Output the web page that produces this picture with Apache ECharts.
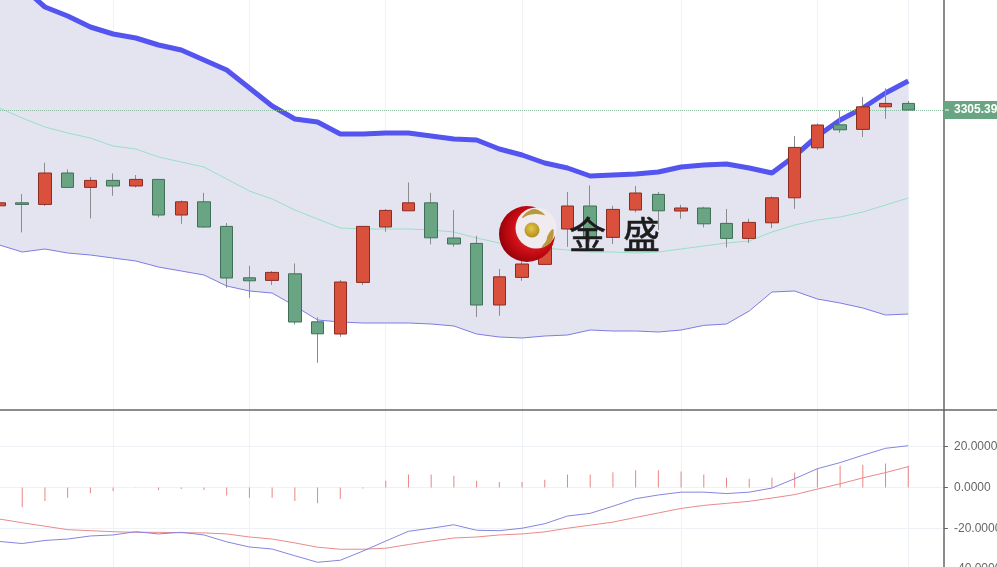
<!DOCTYPE html>
<html><head><meta charset="utf-8">
<style>html,body{margin:0;padding:0;background:#fff;overflow:hidden}#c{width:997px;height:567px}</style>
<script src="https://cdn.jsdelivr.net/npm/echarts@6/dist/echarts.min.js"></script>
</head><body><div id="c"></div>
<script>
const opens=[3257.5,3259.0,3258.2,3273.9,3266.7,3270.2,3267.4,3270.7,3252.9,3259.5,3247.2,3221.5,3220.2,3223.5,3199.5,3193.4,3219.2,3246.9,3255.0,3259.0,3241.4,3238.7,3207.9,3221.7,3228.2,3245.9,3257.4,3241.7,3255.4,3263.2,3254.9,3256.4,3248.7,3241.2,3249.0,3261.5,3286.5,3298.0,3295.7,3307.0,3308.7];
const closes=[3259.0,3258.2,3273.9,3266.7,3270.2,3267.4,3270.7,3252.9,3259.5,3246.9,3221.4,3220.0,3224.2,3199.4,3193.5,3219.4,3247.2,3255.2,3259.0,3241.5,3238.4,3207.9,3222.0,3228.4,3244.4,3257.4,3241.4,3255.7,3263.9,3255.0,3256.4,3248.5,3241.2,3249.2,3261.5,3286.7,3297.9,3295.5,3307.0,3308.7,3305.39];
const lows=[3257.4,3244.2,3257.4,3266.7,3251.2,3262.5,3266.7,3251.7,3248.5,3246.5,3216.5,3211.5,3217.9,3198.2,3179.0,3192.0,3217.9,3244.5,3255.0,3238.2,3237.0,3201.9,3202.5,3220.0,3228.2,3237.0,3239.5,3238.4,3254.2,3245.4,3251.0,3246.7,3236.7,3238.9,3246.4,3256.0,3285.4,3294.0,3291.9,3301.0,3305.39];
const highs=[3259.4,3263.4,3279.0,3275.7,3271.9,3273.7,3272.9,3270.7,3260.2,3264.0,3248.9,3227.5,3224.9,3228.7,3201.7,3220.4,3247.4,3255.9,3269.2,3264.0,3255.4,3242.5,3225.9,3229.9,3247.4,3264.4,3267.7,3257.5,3267.4,3264.4,3258.0,3257.0,3255.9,3251.0,3262.2,3292.4,3298.7,3305.2,3312.0,3316.2,3310.0];
const bollUpper=[3375.4,3366.9,3356.9,3352.4,3346.9,3343.4,3341.4,3337.9,3335.4,3330.4,3325.4,3316.4,3307.4,3300.9,3299.4,3293.4,3293.4,3293.9,3293.9,3292.4,3290.9,3290.4,3285.9,3282.9,3278.9,3276.4,3272.4,3272.9,3273.4,3274.4,3276.9,3277.9,3278.4,3276.4,3273.9,3282.4,3292.4,3300.4,3306.4,3313.9,3319.9];
const bollMid=[3306.4,3301.4,3296.9,3293.9,3291.4,3287.4,3285.9,3281.9,3279.4,3276.9,3270.9,3264.9,3260.9,3255.4,3250.9,3246.4,3245.9,3245.9,3245.9,3245.4,3244.4,3241.4,3238.9,3237.4,3236.4,3235.4,3234.4,3234.4,3233.9,3234.4,3235.9,3237.4,3238.9,3239.9,3244.4,3247.9,3250.4,3251.9,3254.4,3257.9,3261.4];
const bollLower=[3237.9,3234.4,3235.9,3233.9,3232.9,3231.4,3229.9,3226.9,3224.9,3222.9,3217.4,3214.9,3213.9,3207.4,3200.4,3199.4,3198.9,3198.9,3198.9,3198.4,3197.4,3193.4,3191.9,3191.4,3192.4,3192.9,3195.4,3194.9,3194.9,3194.4,3195.4,3197.7,3198.4,3204.9,3214.4,3214.9,3210.9,3208.9,3206.4,3202.9,3203.4];
const macdBars=[-11.2,-9.7,-6.7,-5,-2.8,-1.7,-0.2,-1.3,-0.7,-1.3,-4,-5,-5,-6.7,-7.7,-5.7,-0.5,3.3,6.3,6.3,5.8,3.3,2.7,2.7,3.8,6.3,6.3,7.5,8.5,8.5,7.8,6.3,4.8,4.3,4.8,7.3,9.3,10.7,11.2,11.7,10.7];
const dif=[-26.5,-27.5,-26,-25.3,-23.8,-23.3,-21.7,-22.8,-22,-23.3,-26.7,-29.2,-30.2,-33.5,-36.7,-35.7,-31.2,-26.3,-21.5,-20,-18.3,-21,-21.2,-20,-17.8,-14,-12.7,-9.2,-5.5,-3.7,-2.3,-2.3,-3,-2.3,-0.3,4.3,9.2,12.2,15.8,19.2,20.5];
const dea=[-15.5,-17.3,-19,-20.7,-21.2,-21.7,-22,-22,-22.2,-22.3,-22.8,-24.3,-25.3,-27.2,-29.3,-30.3,-30.3,-29.8,-28,-26.3,-24.8,-24.3,-23.3,-22.8,-21.8,-20,-18.5,-17,-14.7,-12.5,-10.3,-8.8,-7.8,-6.8,-5.2,-3.5,-0.8,1.8,4.7,7.3,10.2];
const categories=opens.map((_,i)=>String(i)).concat(['41','42']);
const gridTicks=[5,11,17,23,30,36,40];
const lastPrice=3305.39;
const macdTicks=[-40,-20,0,20];

const RED='#d9503c',RED_B='#8a2c22',GRN='#6aa583',GRN_B='#3f6f59',GRID='#eef2f7',AX='#666';
const PRICE_MIN=3155.4,PRICE_MAX=3360.4,MACD_MIN=-40,MACD_MAX=38;
const xBase={type:'category',data:categories,boundaryGap:false,
  axisLine:{show:false},axisTick:{show:false},axisLabel:{show:false},
  splitLine:{show:true,lineStyle:{color:GRID,width:1},interval:(i)=>gridTicks.includes(i)}};
const xFrame={type:'value',min:0,max:1,show:false};
const chart=echarts.init(document.getElementById('c'),null,{renderer:'canvas'});
chart.setOption({
  animation:false,backgroundColor:'#fff',
  grid:[
    {left:-0.5,right:43.3,top:0,height:410,outerBoundsMode:'none'},
    {left:-0.5,right:43.3,top:410,height:159,outerBoundsMode:'none'},
    {left:0,right:53,top:0,height:410,outerBoundsMode:'none'},
    {left:0,right:53,top:410,height:159,outerBoundsMode:'none'}
  ],
  xAxis:[
    Object.assign({},xBase,{gridIndex:0}),
    Object.assign({},xBase,{gridIndex:1}),
    Object.assign({},xFrame,{gridIndex:2}),
    Object.assign({},xFrame,{gridIndex:3})
  ],
  yAxis:[
    {gridIndex:0,type:'value',min:PRICE_MIN,max:PRICE_MAX,show:false},
    {gridIndex:1,type:'value',min:MACD_MIN,max:MACD_MAX,show:false},
    {gridIndex:2,type:'value',position:'right',min:PRICE_MIN,max:PRICE_MAX,
     axisLine:{show:true,onZero:false,lineStyle:{color:AX,width:1.5}},axisTick:{show:false},axisLabel:{show:false},splitLine:{show:false}},
    {gridIndex:3,type:'value',position:'right',min:MACD_MIN,max:MACD_MAX,
     axisLine:{show:true,onZero:false,lineStyle:{color:AX,width:1.5}},
     axisTick:{show:true,length:4,customValues:macdTicks,lineStyle:{color:AX}},
     axisLabel:{margin:10,color:'#666',fontSize:12,fontFamily:'Liberation Sans',customValues:macdTicks,formatter:v=>Number(v).toFixed(4)},
     splitLine:{show:true,lineStyle:{color:GRID,width:1}}}
  ],
  series:[
    {type:'line',xAxisIndex:0,yAxisIndex:0,z:2,data:bollLower,stack:'b',symbol:'none',silent:true,lineStyle:{width:0},areaStyle:{opacity:0}},
    {type:'line',xAxisIndex:0,yAxisIndex:0,z:2,data:bollUpper.map((u,i)=>+(u-bollLower[i]).toFixed(2)),stack:'b',symbol:'none',silent:true,lineStyle:{width:0},areaStyle:{color:'#e4e4f1',opacity:1}},
    {type:'line',xAxisIndex:0,yAxisIndex:0,z:3,data:bollUpper,symbol:'none',lineStyle:{color:'#5454ee',width:5}},
    {type:'line',xAxisIndex:0,yAxisIndex:0,z:3,data:bollMid,symbol:'none',lineStyle:{color:'#98dfc6',width:1}},
    {type:'line',xAxisIndex:0,yAxisIndex:0,z:3,data:bollLower,symbol:'none',lineStyle:{color:'#7c7ce4',width:1}},
    {type:'candlestick',xAxisIndex:0,yAxisIndex:0,z:6,barWidth:1,
     data:opens.map((o,i)=>[o,closes[i],lows[i],highs[i]]),
     itemStyle:{color:'#888',color0:'#888',borderColor:'#8c8c8c',borderColor0:'#8c8c8c',borderWidth:1}},
    {type:'candlestick',xAxisIndex:0,yAxisIndex:0,z:7,barWidth:13,
     data:opens.map((o,i)=>[o,closes[i],Math.min(o,closes[i]),Math.max(o,closes[i])]),
     itemStyle:{color:RED,color0:GRN,borderColor:RED_B,borderColor0:GRN_B,borderWidth:1}},
    {type:'line',xAxisIndex:2,yAxisIndex:2,z:5,data:[],symbol:'none',
     markLine:{silent:true,symbol:'none',animation:false,z:5,
       lineStyle:{color:'#8fbba4',type:'dotted',width:1},
       label:{show:true,position:'end',distance:0,formatter:()=>lastPrice.toFixed(3),color:'#fff',fontSize:12,fontWeight:'bold',fontFamily:'Liberation Sans',
              backgroundColor:'#6aa583',padding:[3,10,3,10],lineHeight:12},
       data:[{yAxis:lastPrice}]}},
    {type:'bar',xAxisIndex:1,yAxisIndex:1,data:macdBars,barWidth:1,itemStyle:{color:'#e98484'}},
    {type:'line',xAxisIndex:1,yAxisIndex:1,data:dea,symbol:'none',lineStyle:{color:'#e98a8a',width:1}},
    {type:'line',xAxisIndex:1,yAxisIndex:1,data:dif,symbol:'none',lineStyle:{color:'#8585e0',width:1}}
  ],
  graphic:[
    {type:'line',z:50,shape:{x1:0,y1:410,x2:997,y2:410},style:{stroke:AX,lineWidth:1.5}},
    {type:'line',z:50,shape:{x1:945,y1:110,x2:949,y2:110},style:{stroke:'#fff',lineWidth:1}},
    {type:'circle',z:100,shape:{cx:527,cy:234,r:28},style:{fill:new echarts.graphic.RadialGradient(0.6,0.45,0.65,[{offset:0,color:'#f04040'},{offset:0.6,color:'#c80c14'},{offset:1,color:'#8c0008'}])}},
    {type:'circle',z:101,shape:{cx:536,cy:228,r:20.5},style:{fill:'#efebef'}},
    {type:'circle',z:102,shape:{cx:532,cy:230,r:7.5},style:{fill:new echarts.graphic.RadialGradient(0.45,0.4,0.6,[{offset:0,color:'#e6c84a'},{offset:1,color:'#b08f1c'}])}},
    {type:'polygon',z:102,shape:{points:[[522,218],[527,212],[535,209],[545,215],[537,214],[529,215]],smooth:0.4},style:{fill:'#b9993a'}},
    {type:'polygon',z:102,shape:{points:[[553,229],[553,238],[549,244],[542,247],[546,241],[548,235]],smooth:0.4},style:{fill:'#b9993a'}},
    {type:'text',z:103,x:569,y:216,style:{text:'金',fontSize:37,fontFamily:'Noto Sans CJK SC',fill:'#1c1c1c',stroke:'#1c1c1c',lineWidth:0.6,textVerticalAlign:'top'}},
    {type:'text',z:103,x:623,y:216,style:{text:'盛',fontSize:37,fontFamily:'Noto Sans CJK SC',fill:'#1c1c1c',stroke:'#1c1c1c',lineWidth:0.6,textVerticalAlign:'top'}}
  ]
});
</script></body></html>
